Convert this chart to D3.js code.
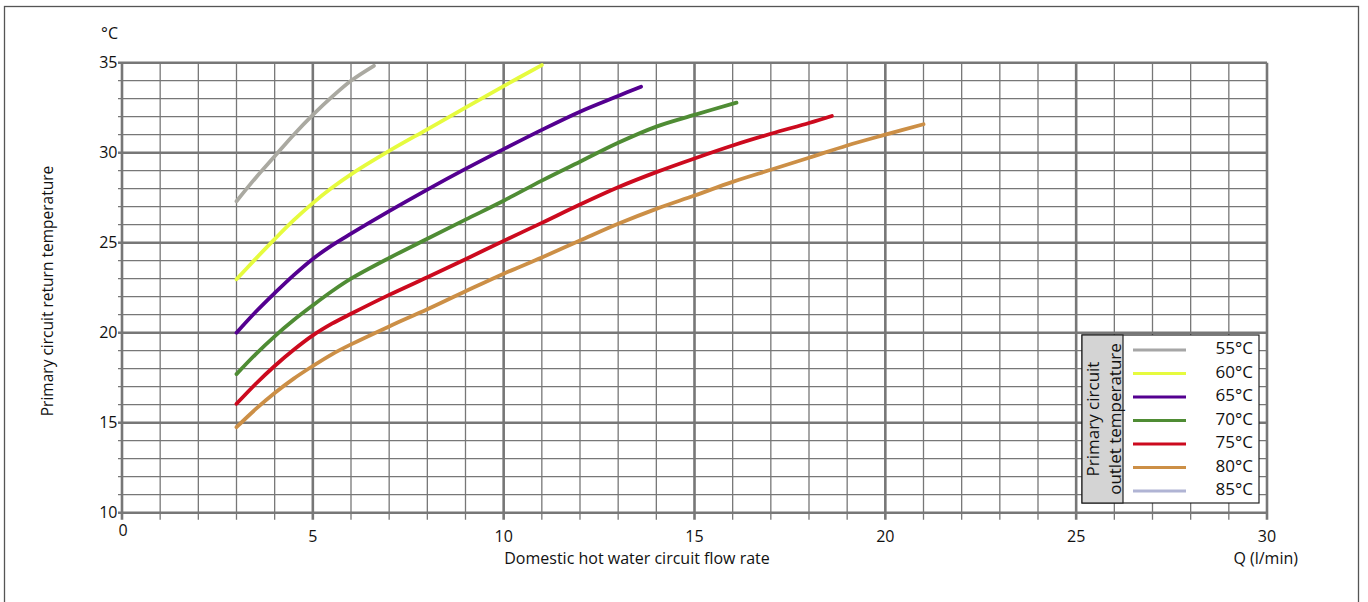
<!DOCTYPE html>
<html><head><meta charset="utf-8">
<script src="https://cdn.jsdelivr.net/npm/d3@7"></script>
<style>
html,body{margin:0;padding:0;background:#fff;}
svg{display:block;}
text{font-family:"Open Sans","Noto Sans",sans-serif;fill:#111;}
</style></head>
<body>
<svg id="c" width="1368" height="602"></svg>
<script>
// ---- data ----
const seriesNames = ["55°C","60°C","65°C","70°C","75°C","80°C","85°C"];
const seriesColors = ["#aaa9a1","#e6fb3e","#540090","#4f8c34","#cc0a1e","#cc8f46","#b0b4d4"];
const legendColors = ["#a6a6a6","#e6fb3e","#540090","#4f8c34","#cc0a1e","#cc8f46","#b0b4d4"];
const s55 = [[3,27.3],[3.5,28.6],[4,29.8],[4.5,31.0],[5,32.1],[5.5,33.1],[6,34.0],[6.6,34.83]];
const s60 = [[3,22.97],[3.5,24.1],[4,25.2],[4.5,26.25],[5,27.2],[5.5,28.05],[6,28.8],[7,30.1],[8,31.3],[9,32.5],[10,33.7],[11,34.87]];
const s65 = [[3,20.0],[3.5,21.15],[4,22.2],[4.5,23.2],[5,24.1],[5.5,24.85],[6,25.5],[7,26.75],[8,27.95],[9,29.1],[10,30.2],[11,31.27],[12,32.28],[13,33.15],[13.6,33.67]];
const s70 = [[3,17.7],[3.5,18.8],[4,19.8],[4.5,20.7],[5,21.52],[5.5,22.3],[6,23.0],[7,24.15],[8,25.22],[9,26.28],[10,27.33],[11,28.45],[12,29.5],[13,30.55],[14,31.45],[15,32.1],[16.1,32.78]];
const s75 = [[3,16.05],[3.5,17.15],[4,18.15],[4.5,19.05],[5,19.85],[5.5,20.5],[6,21.05],[7,22.1],[8,23.08],[9,24.08],[10,25.1],[11,26.1],[12,27.12],[13,28.08],[14,28.92],[15,29.68],[16,30.4],[17,31.05],[18,31.65],[18.6,32.04]];
const s80 = [[3,14.75],[3.5,15.75],[4,16.65],[4.5,17.45],[5,18.15],[5.5,18.8],[6,19.35],[7,20.35],[8,21.3],[9,22.3],[10,23.28],[11,24.18],[12,25.12],[13,26.05],[14,26.88],[15,27.62],[16,28.38],[17,29.05],[18,29.72],[19,30.4],[20,31.0],[21,31.58]];
const s85 = [];
const seriesData = [s55,s60,s65,s70,s75,s80,s85];
const xTicks = [0,5,10,15,20,25,30];
const yTicks = [10,15,20,25,30,35];
const xTitle = "Domestic hot water circuit flow rate";
const xUnit = "Q (l/min)";
const yTitle = "Primary circuit return temperature";
const yUnit = "°C";
const legendTitle = ["Primary circuit","outlet temperature"];

// ---- chart ----
const svg = d3.select("#c");
const x = d3.scaleLinear().domain([0,30]).range([122,1267]);
const y = d3.scaleLinear().domain([10,35]).range([512.7,62.7]);
const gridColor = "#777";

// outer frame
svg.append("rect").attr("x",4.5).attr("y",6.5).attr("width",1354).attr("height",610)
  .attr("fill","none").attr("stroke","#555").attr("stroke-width",1.3);

const g = svg.append("g");
d3.range(0,31).forEach(v=>{
  const major = v%5===0;
  g.append("line").attr("x1",x(v)).attr("x2",x(v)).attr("y1",y(35)).attr("y2",y(10)+7)
    .attr("stroke",gridColor).attr("stroke-width",major?2.6:1.3);
});
d3.range(10,36).forEach(v=>{
  const major = v%5===0;
  g.append("line").attr("x1",x(0)-4).attr("x2",x(30)).attr("y1",y(v)).attr("y2",y(v))
    .attr("stroke",gridColor).attr("stroke-width",major?2.6:1.3);
});

// axis labels
svg.selectAll(".yt").data(yTicks).enter().append("text")
  .attr("x",117.5).attr("y",d=>y(d)).attr("dy","0.36em").attr("text-anchor","end")
  .style("font-size","16px").text(d=>d);
svg.selectAll(".xt").data(xTicks).enter().append("text")
  .attr("x",d=>d===0?x(d)+1:x(d)).attr("y",d=>d===0?530:536).attr("dy","0.36em").attr("text-anchor","middle")
  .style("font-size","16px").text(d=>d);
svg.append("text").attr("x",118).attr("y",33).attr("dy","0.36em").attr("text-anchor","end")
  .style("font-size","16px").text(yUnit);
svg.append("text").attr("x",637).attr("y",558).attr("dy","0.36em").attr("text-anchor","middle")
  .style("font-size","16px").text(xTitle);
svg.append("text").attr("x",1298).attr("y",558).attr("dy","0.36em").attr("text-anchor","end")
  .style("font-size","16px").text(xUnit);
svg.append("text").attr("transform","translate(47,291) rotate(-90)").attr("dy","0.36em").attr("text-anchor","middle")
  .style("font-size","15.5px").text(yTitle);

// curves
const line = d3.line().x(d=>x(d[0])).y(d=>y(d[1])).curve(d3.curveCatmullRom.alpha(0.5));
seriesData.forEach((s,i)=>{
  if(!s.length) return;
  svg.append("path").attr("d",line(s)).attr("fill","none")
    .attr("stroke",seriesColors[i]).attr("stroke-width",3.8).attr("stroke-linecap","round");
});

// legend
const lg = svg.append("g");
const L = {x0:1082, x1:1259, y0:335, y1:503, xs:1123};
lg.append("rect").attr("x",L.x0).attr("y",L.y0).attr("width",L.x1-L.x0).attr("height",L.y1-L.y0)
  .attr("fill","#fff").attr("stroke","#222").attr("stroke-width",1.2);
lg.append("rect").attr("x",L.x0).attr("y",L.y0).attr("width",L.xs-L.x0).attr("height",L.y1-L.y0)
  .attr("fill","#d4d4d4").attr("stroke","#222").attr("stroke-width",1.2);
const cy = (L.y0+L.y1)/2;
legendTitle.forEach((t,i)=>{
  lg.append("text").attr("transform",`translate(${i===0?1093:1115},${cy}) rotate(-90)`)
    .attr("dy","0.36em").attr("text-anchor","middle").style("font-size","17px").text(t);
});
const rowY = d3.scaleLinear().domain([0,6]).range([350,491]);
seriesNames.forEach((n,i)=>{
  lg.append("line").attr("x1",1133).attr("x2",1186).attr("y1",rowY(i)).attr("y2",rowY(i))
    .attr("stroke",legendColors[i]).attr("stroke-width",3);
  lg.append("text").attr("x",1253).attr("y",rowY(i)-2).attr("dy","0.36em").attr("text-anchor","end")
    .style("font-size","17px").text(n);
});
</script>
</body></html>
